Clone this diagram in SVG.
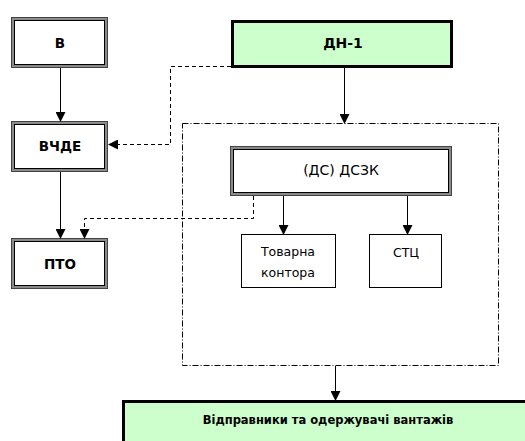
<svg xmlns="http://www.w3.org/2000/svg" width="525" height="441" viewBox="0 0 525 441">
<defs>
<style>
.dbl{fill:#fff;stroke:#8a8a8a;stroke-width:4}
.dbli{fill:none;stroke:#000;stroke-width:1}
.dblo{fill:none;stroke:#444;stroke-width:1}
.green{fill:#ccffcc;stroke:#000;stroke-width:3}
.plain{fill:#fff;stroke:#000;stroke-width:1}
.b{font-family:"DejaVu Sans",Verdana,sans-serif;font-weight:bold;text-anchor:middle;fill:#000}
.n{font-family:"DejaVu Sans",Verdana,sans-serif;text-anchor:middle;fill:#000}
.ln{fill:none;stroke:#000;stroke-width:1}
.dash{fill:none;stroke:#000;stroke-width:1;stroke-dasharray:4 3}
.dd{fill:none;stroke:#000;stroke-width:1;stroke-dasharray:6 2 1 2}
</style>
<marker id="ah" markerWidth="10" markerHeight="10" refX="9" refY="5" orient="auto" markerUnits="userSpaceOnUse">
<path d="M0,0 L10,5 L0,10 z" fill="#000"/>
</marker>
</defs>
<rect width="525" height="441" fill="#fff"/>

<g id="group-box">
<rect class="dd" x="182.5" y="123.5" width="316" height="242"/>
</g>

<g id="node-b">
<rect class="dbl" x="13" y="19" width="93" height="47"/>
<rect class="dblo" x="11.5" y="17.5" width="96" height="50"/>
<rect class="dbli" x="14.5" y="20.5" width="90" height="44"/>
<text class="b" x="60" y="48" font-size="13.5">В</text>
</g>

<g id="node-vchde">
<rect class="dbl" x="13" y="123" width="93" height="47"/>
<rect class="dblo" x="11.5" y="121.5" width="96" height="50"/>
<rect class="dbli" x="14.5" y="124.5" width="90" height="44"/>
<text class="b" x="60" y="151" font-size="13.5">ВЧДЕ</text>
</g>

<g id="node-pto">
<rect class="dbl" x="13" y="240" width="93" height="47"/>
<rect class="dblo" x="11.5" y="238.5" width="96" height="50"/>
<rect class="dbli" x="14.5" y="241.5" width="90" height="44"/>
<text class="b" x="60" y="269" font-size="13.5">ПТО</text>
</g>

<g id="node-dn1">
<rect class="green" x="232.5" y="21.5" width="219" height="45"/>
<text class="b" x="343" y="48" font-size="14">ДН-1</text>
</g>

<g id="node-dszk">
<rect class="dbl" x="232" y="148" width="218" height="46"/>
<rect class="dblo" x="230.5" y="146.5" width="221" height="49"/>
<rect class="dbli" x="233.5" y="149.5" width="215" height="43"/>
<text class="n" x="341" y="175" font-size="14">(ДС) ДСЗК</text>
</g>

<g id="node-tovarna">
<rect class="plain" x="241.5" y="234.5" width="94" height="53"/>
<text class="n" x="288" y="256" font-size="12.5">Товарна</text>
<text class="n" x="288" y="277" font-size="12.5">контора</text>
</g>

<g id="node-stc">
<rect class="plain" x="369.5" y="234.5" width="72" height="53"/>
<text class="n" x="406" y="257" font-size="12.5">СТЦ</text>
</g>

<g id="node-vidpr">
<rect class="green" x="123.5" y="401.5" width="420" height="60"/>
<text class="b" x="328" y="424" font-size="11.5">Відправники та одержувачі вантажів</text>
</g>

<g id="connectors">
<line class="ln" x1="60.5" y1="68" x2="60.5" y2="121" marker-end="url(#ah)"/>
<line class="ln" x1="60.5" y1="172" x2="60.5" y2="238" marker-end="url(#ah)"/>
<line class="ln" x1="344.5" y1="68" x2="344.5" y2="123" marker-end="url(#ah)"/>
<polyline class="dash" points="231,66.5 170.5,66.5 170.5,144.5 109,144.5" marker-end="url(#ah)"/>
<line class="ln" x1="283.5" y1="196" x2="283.5" y2="234" marker-end="url(#ah)"/>
<line class="ln" x1="407.5" y1="196" x2="407.5" y2="234" marker-end="url(#ah)"/>
<polyline class="dash" points="253.5,196 253.5,218.5 84.5,218.5 84.5,238" marker-end="url(#ah)"/>
<line class="ln" x1="335.5" y1="366" x2="335.5" y2="400" marker-end="url(#ah)"/>
</g>
</svg>
